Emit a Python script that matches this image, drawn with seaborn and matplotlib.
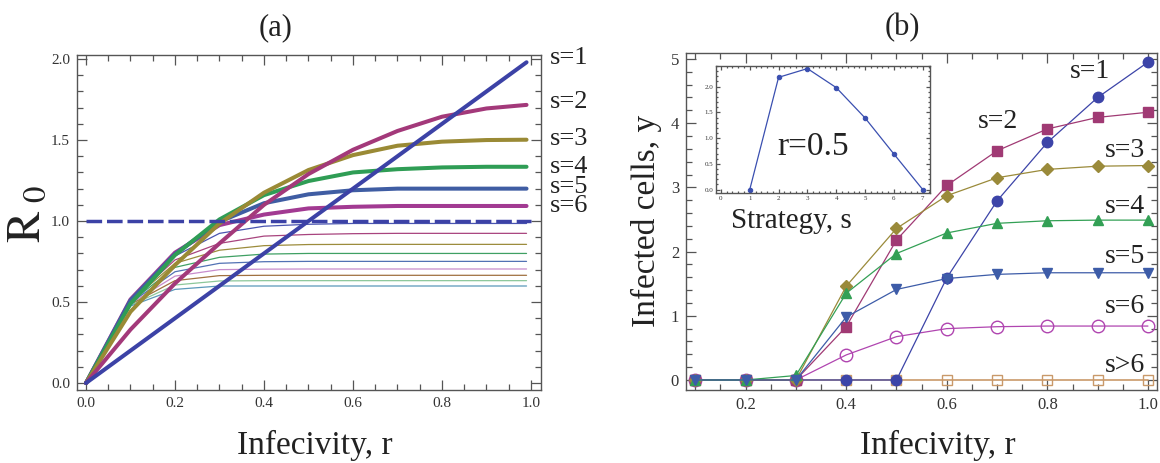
import numpy as np
import pandas as pd
import matplotlib
matplotlib.use("Agg")
import matplotlib.pyplot as plt
import seaborn as sns
from matplotlib.ticker import MultipleLocator, FixedLocator

# ---------------- data: panel (a) ----------------
r_a = [0.0, 0.1, 0.2, 0.3, 0.4, 0.5, 0.6, 0.7, 0.8, 0.9, 0.99]
R0_s1 = [0.0, 0.2, 0.4, 0.6, 0.8, 1.0, 1.2, 1.4, 1.6, 1.8, 1.98]
R0_s2 = [0.0, 0.33, 0.615, 0.862, 1.10, 1.29, 1.44, 1.556, 1.644, 1.695, 1.717]
R0_s3 = [0.0, 0.44, 0.728, 0.985, 1.175, 1.315, 1.407, 1.465, 1.49, 1.50, 1.502]
R0_s4 = [0.0, 0.49, 0.79, 1.01, 1.16, 1.247, 1.30, 1.32, 1.331, 1.335, 1.335]
R0_s5 = [0.0, 0.51, 0.796, 0.996, 1.11, 1.165, 1.19, 1.20, 1.20, 1.20, 1.20]
R0_s6 = [0.0, 0.516, 0.805, 0.975, 1.04, 1.078, 1.088, 1.093, 1.093, 1.093, 1.093]
R0_s7 = [0.0, 0.513, 0.784, 0.924, 0.968, 0.98, 0.985, 0.985, 0.985, 0.985, 0.985]
R0_s8 = [0.0, 0.51, 0.76, 0.862, 0.907, 0.917, 0.922, 0.924, 0.924, 0.924, 0.924]
R0_s9 = [0.0, 0.505, 0.739, 0.82, 0.848, 0.855, 0.856, 0.856, 0.856, 0.856, 0.856]
R0_s10 = [0.0, 0.50, 0.714, 0.776, 0.796, 0.80, 0.80, 0.80, 0.80, 0.80, 0.80]
R0_s11 = [0.0, 0.495, 0.687, 0.739, 0.749, 0.751, 0.751, 0.751, 0.751, 0.751, 0.751]
R0_s12 = [0.0, 0.49, 0.66, 0.70, 0.703, 0.704, 0.704, 0.704, 0.704, 0.704, 0.704]
R0_s13 = [0.0, 0.485, 0.632, 0.663, 0.665, 0.665, 0.665, 0.665, 0.665, 0.665, 0.665]
R0_s14 = [0.0, 0.48, 0.605, 0.63, 0.632, 0.632, 0.632, 0.632, 0.632, 0.632, 0.632]
R0_s15 = [0.0, 0.475, 0.578, 0.599, 0.599, 0.599, 0.599, 0.599, 0.599, 0.599, 0.599]
threshold_r = [0.0, 1.0]
threshold_R0 = [1.0, 1.0]
labels_a = ["s=1", "s=2", "s=3", "s=4", "s=5", "s=6"]
labels_a_y = [2.005, 1.735, 1.506, 1.333, 1.21, 1.093]

# ---------------- data: panel (b) ----------------
r_b = [0.1, 0.2, 0.3, 0.4, 0.5, 0.6, 0.7, 0.8, 0.9, 1.0]
y_s1 = [0, 0, 0, 0, 0, 1.59, 2.79, 3.70, 4.40, 4.95]
y_s2 = [0, 0, 0, 0.83, 2.18, 3.03, 3.57, 3.91, 4.09, 4.17]
y_s3 = [0, 0, 0, 1.46, 2.36, 2.87, 3.15, 3.28, 3.33, 3.34]
y_s4 = [0, 0, 0.07, 1.35, 1.97, 2.29, 2.44, 2.48, 2.49, 2.49]
y_s5 = [0, 0, 0, 0.98, 1.41, 1.58, 1.645, 1.67, 1.67, 1.67]
y_s6 = [0, 0, 0, 0.39, 0.675, 0.80, 0.83, 0.84, 0.84, 0.84]
y_s7plus = [0, 0, 0, 0, 0, 0, 0, 0, 0, 0]
labels_b = ["s=1", "s=2", "s=3", "s=4", "s=5", "s=6", "s>6"]
labels_b_pos = [(0.845, 4.80), (0.662, 4.02), (0.914, 3.58), (0.914, 2.70),
                (0.914, 1.92), (0.914, 1.14), (0.914, 0.23)]

# ---------------- data: inset ----------------
strategy = [1, 2, 3, 4, 5, 6, 7]
infected_r05 = [0.0, 2.18, 2.35, 1.98, 1.39, 0.69, 0.0]

# ---------------- style ----------------
sns.set_style("ticks")
plt.rcParams["font.family"] = ["Liberation Serif", "DejaVu Serif"]
plt.rcParams["mathtext.fontset"] = "stix"

W, H = 1160, 463
fig = plt.figure(figsize=(W / 100, H / 100), dpi=100)
fig.patch.set_facecolor("white")


def rect(l, t, r, b):
    return [l / W, 1 - b / H, (r - l) / W, (b - t) / H]


axA = fig.add_axes(rect(77, 55, 541, 390))
axB = fig.add_axes(rect(686, 53, 1157, 390))
axI = fig.add_axes(rect(716, 66, 930, 193))

FRAME = "#555555"
TXT = "#222222"


def frame(ax, lab_size, maj=7, mnr=4):
    for sp in ax.spines.values():
        sp.set_color(FRAME)
        sp.set_linewidth(1.0)
        sp.set_visible(True)
    ax.tick_params(which="both", direction="in", top=True, right=True,
                   color=FRAME, labelcolor="#333333", labelsize=lab_size, width=0.9)
    ax.tick_params(which="major", length=maj, pad=5)
    ax.tick_params(which="minor", length=mnr)
    ax.set_xlabel("")
    ax.set_ylabel("")


# ---------------- panel (a) ----------------
thin = [(R0_s7, "#4a55b0"), (R0_s8, "#a8447e"), (R0_s9, "#9c8c3c"),
        (R0_s10, "#3fa063"), (R0_s11, "#5272b4"), (R0_s12, "#c78ccc"),
        (R0_s13, "#a07040"), (R0_s14, "#8cc79a"), (R0_s15, "#5a98ba")]
for vals, c in thin:
    sns.lineplot(x=r_a, y=vals, ax=axA, color=c, linewidth=0.9,
                 sort=False, estimator=None)
thick = [(R0_s6, "#a23a92"), (R0_s5, "#3f5da3"), (R0_s4, "#2f9d55"),
         (R0_s3, "#9a8a35"), (R0_s2, "#a3397a"), (R0_s1, "#3c42a6")]
for vals, c in thick:
    sns.lineplot(x=r_a, y=vals, ax=axA, color=c, linewidth=2.9,
                 sort=False, estimator=None)
sns.lineplot(x=threshold_r, y=threshold_R0, ax=axA, color="#3c42a6",
             linewidth=2.5, dashes=False, sort=False, estimator=None)
axA.lines[-1].set_dashes([4.5, 1.4])

axA.set_xlim(-0.0202, 1.0225)
axA.set_ylim(-0.043, 2.025)
axA.xaxis.set_major_locator(MultipleLocator(0.2))
axA.xaxis.set_minor_locator(MultipleLocator(0.05))
axA.yaxis.set_major_locator(MultipleLocator(0.5))
axA.yaxis.set_minor_locator(MultipleLocator(0.1))
axA.xaxis.set_major_formatter(matplotlib.ticker.FormatStrFormatter("%.1f"))
axA.yaxis.set_major_formatter(matplotlib.ticker.FormatStrFormatter("%.1f"))
frame(axA, 11)
for lab, yv in zip(labels_a, labels_a_y):
    axA.text(1.043, yv, lab, fontsize=19, color=TXT, ha="left", va="center",
             clip_on=False)

# ---------------- panel (b) ----------------
series_b = [
    (y_s7plus, "#c9996a", "s", 7.5, "none", 1.2, 1),
    (y_s6, "#b045b0", "o", 9, "none", 0.9, 2),
    (y_s1, "#3c44a8", "o", 7.5, None, 0.9, 3),
    (y_s2, "#a03a74", "s", 6.8, None, 0.9, 4),
    (y_s3, "#9a8a3a", "D", 6.3, None, 0.9, 5),
    (y_s4, "#33a055", "^", 7.2, None, 0.9, 6),
    (y_s5, "#3d5ca8", "v", 7.2, None, 0.9, 7),
]
for vals, c, m, ms, mfc, lw, z in series_b:
    sns.lineplot(x=r_b, y=vals, ax=axB, color=c, linewidth=lw, marker=m,
                 markersize=ms, markeredgecolor=c,
                 markerfacecolor=(c if mfc is None else "none"),
                 markeredgewidth=1.0, sort=False, estimator=None, zorder=z)

axB.set_xlim(0.0815, 1.018)
axB.set_ylim(-0.156, 5.093)
axB.xaxis.set_major_locator(FixedLocator([0.2, 0.4, 0.6, 0.8, 1.0]))
axB.xaxis.set_minor_locator(MultipleLocator(0.05))
axB.yaxis.set_major_locator(MultipleLocator(1))
axB.yaxis.set_minor_locator(MultipleLocator(0.2))
axB.xaxis.set_major_formatter(matplotlib.ticker.FormatStrFormatter("%.1f"))
axB.yaxis.set_major_formatter(matplotlib.ticker.FormatStrFormatter("%d"))
frame(axB, 12)
for lab, (xv, yv) in zip(labels_b, labels_b_pos):
    axB.text(xv, yv, lab, fontsize=20, color=TXT, ha="left", va="center",
             clip_on=False, zorder=10)

# ---------------- inset ----------------
axI.set_facecolor("white")
axI.set_zorder(5)
sns.lineplot(x=strategy, y=infected_r05, ax=axI, color="#3a4fb0", linewidth=0.9,
             marker="o", markersize=3.2, markeredgecolor="#3a4fb0",
             sort=False, estimator=None)
axI.set_xlim(-0.17, 7.25)
axI.set_ylim(-0.066, 2.40)
axI.xaxis.set_major_locator(MultipleLocator(1))
axI.xaxis.set_minor_locator(MultipleLocator(0.2))
axI.yaxis.set_major_locator(MultipleLocator(0.5))
axI.yaxis.set_minor_locator(MultipleLocator(0.1))
axI.yaxis.set_major_formatter(matplotlib.ticker.FormatStrFormatter("%.1f"))
frame(axI, 5, maj=3, mnr=1.5)
axI.tick_params(which="major", pad=2)

# ---------------- texts ----------------
fig.text(276 / W, 1 - 28 / H, "(a)", fontsize=22, color=TXT, ha="center", va="center")
fig.text(902 / W, 1 - 28 / H, "(b)", fontsize=22, color=TXT, ha="center", va="center")
fig.text(315 / W, 1 - 445 / H, "Infecivity, r", fontsize=24, color=TXT,
         ha="center", va="center")
fig.text(938 / W, 1 - 445 / H, "Infecivity, r", fontsize=24, color=TXT,
         ha="center", va="center")
fig.text(28 / W, 1 - 214 / H, r"$\mathrm{R}_{\ 0}$", fontsize=34, color=TXT,
         rotation=90, ha="center", va="center")
fig.text(646 / W, 1 - 221 / H, "Infected cells, y", fontsize=24, color=TXT,
         rotation=90, ha="center", va="center")
fig.text(813 / W, 1 - 147 / H, "r=0.5", fontsize=24, color=TXT,
         ha="center", va="center", zorder=20)
fig.text(791 / W, 1 - 221 / H, "Strategy, s", fontsize=21, color=TXT,
         ha="center", va="center")

fig.savefig("out.png", dpi=100, facecolor="white")
